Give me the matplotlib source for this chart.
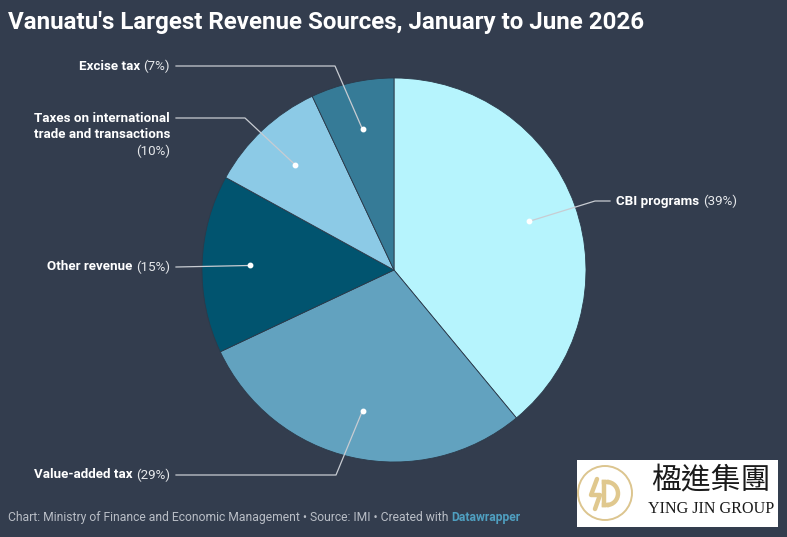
import matplotlib
matplotlib.use("Agg")
import matplotlib.pyplot as plt
from matplotlib.patches import Rectangle, Circle, Arc
import numpy as np

# ---- data ----
categories = ["CBI programs", "Value-added tax", "Other revenue",
              "Taxes on international\ntrade and transactions", "Excise tax"]
shares = [39, 29, 15, 10, 7]
colors = ["#b6f4fd", "#62a2bf", "#01546f", "#8ccae6", "#367b97"]

title = "Vanuatu's Largest Revenue Sources, January to June 2026"
footer = "Chart: Ministry of Finance and Economic Management • Source: IMI • Created with "
footer_brand = "Datawrapper"

W, H = 787, 537
BG = "#333d4e"
FONT = "Roboto"

fig = plt.figure(figsize=(W / 100, H / 100), dpi=100, facecolor=BG)
ax = fig.add_axes([0, 0, 1, 1])
ax.set_facecolor(BG)

CX, CY, R = 394, 270, 192
wedges, _ = ax.pie(shares, colors=colors, center=(CX, CY), radius=R,
                   startangle=-90, counterclock=True,
                   wedgeprops=dict(edgecolor="#2c3a4a", linewidth=0.6))
ax.set_xlim(0, W)
ax.set_ylim(H, 0)
ax.set_aspect("auto")
ax.axis("off")

# label layout: (elbow x, elbow y, text anchor x, side)
layout = [
    (595, 201, 616, "left"),
    (336, 475, 170, "right"),
    (None, 267, 170, "right"),
    (245, 118, 170, "right"),
    (335, 66, 170, "right"),
]

fig.canvas.draw()
rend = fig.canvas.get_renderer()
LINE_C = "#c8ccd2"
FS = 9.6
LH = 16.5

def tw(t):
    return t.get_window_extent(rend).width

for w, name, val, (ex, ey, tx, side) in zip(wedges, categories, shares, layout):
    mid = np.deg2rad((w.theta1 + w.theta2) / 2)
    dx = CX + 0.75 * R * np.cos(mid)
    dy = CY + 0.75 * R * np.sin(mid)
    ax.plot([dx], [dy], "o", color="white", ms=3.2, zorder=5)
    if ex is None:
        xs = [dx, tx + 6]
        ys = [dy, ey]
    elif side == "left":
        xs = [dx, ex, tx - 6]
        ys = [dy, ey, ey]
    else:
        xs = [dx, ex, tx + 6]
        ys = [dy, ey, ey]
    ax.plot(xs, ys, color=LINE_C, lw=0.9, zorder=4)
    pct = f"({val}%)"
    lines = name.split("\n")
    if side == "left":
        t1 = ax.text(tx, ey, lines[0], ha="left", va="center", color="white",
                     fontsize=FS, fontweight="bold", family=FONT)
        ax.text(tx + tw(t1) + 3.5, ey, pct, ha="left", va="center", color="#e6e8eb",
                fontsize=FS, family=FONT)
    else:
        if len(lines) == 1:
            t2 = ax.text(tx, ey, pct, ha="right", va="center", color="#e6e8eb",
                         fontsize=FS, family=FONT)
            ax.text(tx - tw(t2) - 3.5, ey, lines[0], ha="right", va="center",
                    color="white", fontsize=FS, fontweight="bold", family=FONT)
        else:
            for i, ln in enumerate(lines):
                ax.text(tx, ey + i * LH, ln, ha="right", va="center", color="white",
                        fontsize=FS, fontweight="bold", family=FONT)
            ax.text(tx, ey + len(lines) * LH, pct, ha="right", va="center",
                    color="#e6e8eb", fontsize=FS, family=FONT)

# title
ax.text(8, 22, title, ha="left", va="center", color="white", fontsize=17.4,
        fontweight="bold", family=FONT)

# footer
f1 = ax.text(8, 517, footer, ha="left", va="center", color="#b9bec6",
             fontsize=8.75, family=FONT)
ax.text(8 + tw(f1), 517, footer_brand, ha="left", va="center", color="#4f9fc0",
        fontsize=8.75, fontweight="bold", family=FONT)

# logo
ax.add_patch(Rectangle((577, 460), 201, 67, facecolor="white", edgecolor="none", zorder=6))
ax.add_patch(Circle((605, 493), 27, facecolor="none", edgecolor="#dcc58f", lw=1.4, zorder=7))
gold = "#e0c88e"
ax.plot([597, 591, 600, 595], [479, 495, 495, 509], color=gold, lw=3.2,
        solid_capstyle="round", zorder=7)
ax.plot([604, 604], [482, 505], color=gold, lw=3.2, zorder=7)
ax.add_patch(Arc((607, 493.5), 22, 23, theta1=-90, theta2=90, color=gold, lw=3.2, zorder=7))
ax.plot([604, 607], [482, 482], color=gold, lw=3.2, zorder=7)
ax.plot([604, 607], [505, 505], color=gold, lw=3.2, zorder=7)
ax.text(711, 480, "楹進集團", ha="center", va="center", color="#1a1a1a",
        fontsize=21.5, family=["Noto Sans CJK TC", "DejaVu Sans"], zorder=7)
ax.text(711, 509, "YING JIN GROUP", ha="center", va="center", color="#1a1a1a",
        fontsize=11.6, family="Liberation Serif", zorder=7)

fig.savefig("out.png", dpi=100, facecolor=BG)
